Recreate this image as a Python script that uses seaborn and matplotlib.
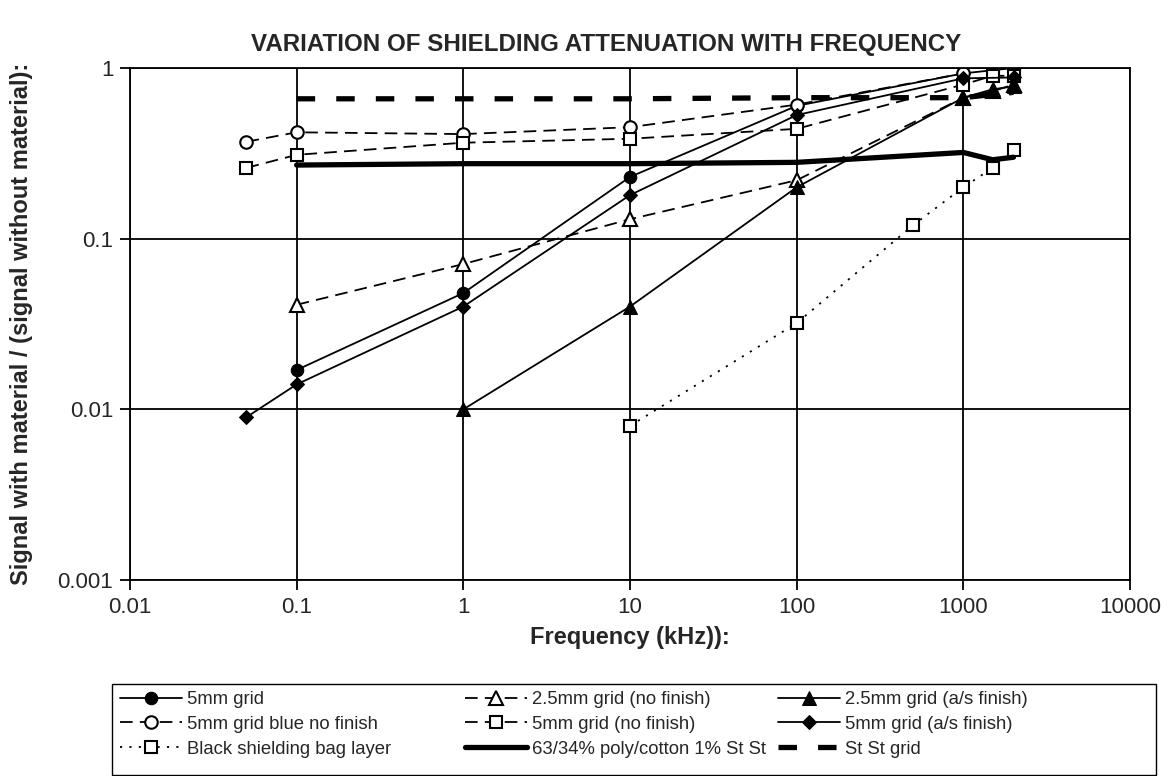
import matplotlib
matplotlib.use("Agg")
import matplotlib.pyplot as plt
from matplotlib.patches import Rectangle
import seaborn as sns

sns.set_style("white")
plt.rcParams["font.family"] = ["Liberation Sans", "DejaVu Sans"]

# data (frequency in kHz, attenuation ratio)
grid5_x = [0.1, 1, 10, 100, 1000, 2000]
grid5_y = [0.017, 0.048, 0.23, 0.60, 0.93, 1.0]

blue_x = [0.05, 0.1, 1, 10, 100, 1000]
blue_y = [0.37, 0.42, 0.41, 0.45, 0.61, 0.93]

bag_x = [10, 100, 500, 1000, 1500, 2000]
bag_y = [0.008, 0.032, 0.12, 0.20, 0.26, 0.33]

grid25nf_x = [0.1, 1, 10, 100, 1000, 1500, 2000]
grid25nf_y = [0.041, 0.071, 0.13, 0.22, 0.67, 0.73, 0.80]

grid5nf_x = [0.05, 0.1, 1, 10, 100, 1000, 1500, 2000]
grid5nf_y = [0.26, 0.31, 0.365, 0.385, 0.44, 0.80, 0.90, 0.90]

poly_x = [0.1, 1, 10, 100, 1000, 1500, 2000]
poly_y = [0.27, 0.275, 0.275, 0.28, 0.32, 0.29, 0.30]

grid25as_x = [1, 10, 100, 1000, 1500, 2000]
grid25as_y = [0.01, 0.04, 0.20, 0.67, 0.75, 0.78]

grid5as_x = [0.05, 0.1, 1, 10, 100, 1000, 2000]
grid5as_y = [0.009, 0.014, 0.04, 0.18, 0.53, 0.87, 0.88]

stst_x = [0.1, 1, 10, 100, 1000, 1500, 2000]
stst_y = [0.66, 0.66, 0.66, 0.67, 0.67, 0.70, 0.72]

W, H = 1176, 776
fig = plt.figure(figsize=(W / 100, H / 100), dpi=100)
ax = fig.add_axes([130 / W, 1 - 580 / H, 1000 / W, 512 / H])
ax.set_xscale("log")
ax.set_yscale("log")

dash = (0, (7, 4))
common = dict(ax=ax, color="black", estimator=None, sort=False)

sns.lineplot(x=grid5_x, y=grid5_y, lw=1.3, marker="o", ms=9, mfc="black",
             mec="black", label="5mm grid", **common)
sns.lineplot(x=blue_x, y=blue_y, lw=1.3, linestyle=dash, marker="o", ms=9,
             mfc="white", mec="black", mew=1.5, label="5mm grid blue no finish", **common)
sns.lineplot(x=bag_x, y=bag_y, lw=1.3, linestyle=(0, (1.2, 4)), marker="s", ms=9,
             mfc="white", mec="black", mew=1.5, label="Black shielding bag layer", **common)
sns.lineplot(x=grid25nf_x, y=grid25nf_y, lw=1.3, linestyle=dash, marker="^", ms=10,
             mfc="white", mec="black", mew=1.5, label="2.5mm grid (no finish)", **common)
sns.lineplot(x=grid5nf_x, y=grid5nf_y, lw=1.3, linestyle=dash, marker="s", ms=9,
             mfc="white", mec="black", mew=1.5, label="5mm grid (no finish)", **common)
sns.lineplot(x=poly_x, y=poly_y, lw=3.8, label="63/34% poly/cotton 1% St St", **common)
sns.lineplot(x=grid25as_x, y=grid25as_y, lw=1.3, marker="^", ms=10, mfc="black",
             mec="black", label="2.5mm grid (a/s finish)", **common)
sns.lineplot(x=grid5as_x, y=grid5as_y, lw=1.3, marker="D", ms=7, mfc="black",
             mec="black", label="5mm grid (a/s finish)", **common)
sns.lineplot(x=stst_x, y=stst_y, lw=3.8, linestyle=(0, (3.5, 4)), label="St St grid", **common)

handles, labels = ax.get_legend_handles_labels()
if ax.get_legend() is not None:
    ax.get_legend().remove()

ax.set_xlim(0.01, 10000)
ax.set_ylim(0.001, 1)
ax.set_xticks([0.01, 0.1, 1, 10, 100, 1000, 10000])
ax.set_xticklabels(["0.01", "0.1", "1", "10", "100", "1000", "10000"])
ax.set_yticks([0.001, 0.01, 0.1, 1])
ax.set_yticklabels(["0.001", "0.01", "0.1", "1"])
ax.minorticks_off()
ax.grid(True, which="major", color="black", lw=1.3)
for s in ax.spines.values():
    s.set_color("black")
    s.set_linewidth(1.3)
ax.tick_params(axis="both", which="major", direction="out", length=7, width=1.3,
               labelsize=16, pad=5, color="black", left=True, bottom=True)

fig.text(606 / W, 1 - 45 / H, "VARIATION OF SHIELDING ATTENUATION WITH FREQUENCY",
         fontsize=17.4, fontweight="bold", ha="center", va="center")
ax.set_xlabel("Frequency (kHz)):", fontsize=17, fontweight="bold")
ax.xaxis.set_label_coords(0.5, -0.09)
ax.set_ylabel("Signal with material / (signal without material):",
              fontsize=17, fontweight="bold")
ax.yaxis.set_label_coords(-0.097, 0.5)

# legend: a framed box holding three columns, like the spreadsheet legend
box_top, box_bottom = 684, 775
fig.patches.append(Rectangle((112 / W, 1 - box_bottom / H), 1044 / W,
                             (box_bottom - box_top) / H,
                             transform=fig.transFigure, fill=False,
                             edgecolor="black", lw=1.0))
col_x = [120, 465, 778]
for i, cx in enumerate(col_x):
    fig.legend(handles[3 * i:3 * i + 3], labels[3 * i:3 * i + 3],
               loc="upper left", bbox_to_anchor=(cx / W, 1 - 691 / H),
               fontsize=13.3, frameon=False, handlelength=3.35,
               handletextpad=0.3, labelspacing=0.43, borderpad=0,
               borderaxespad=0)

fig.savefig("out.png", dpi=100, facecolor="white")
